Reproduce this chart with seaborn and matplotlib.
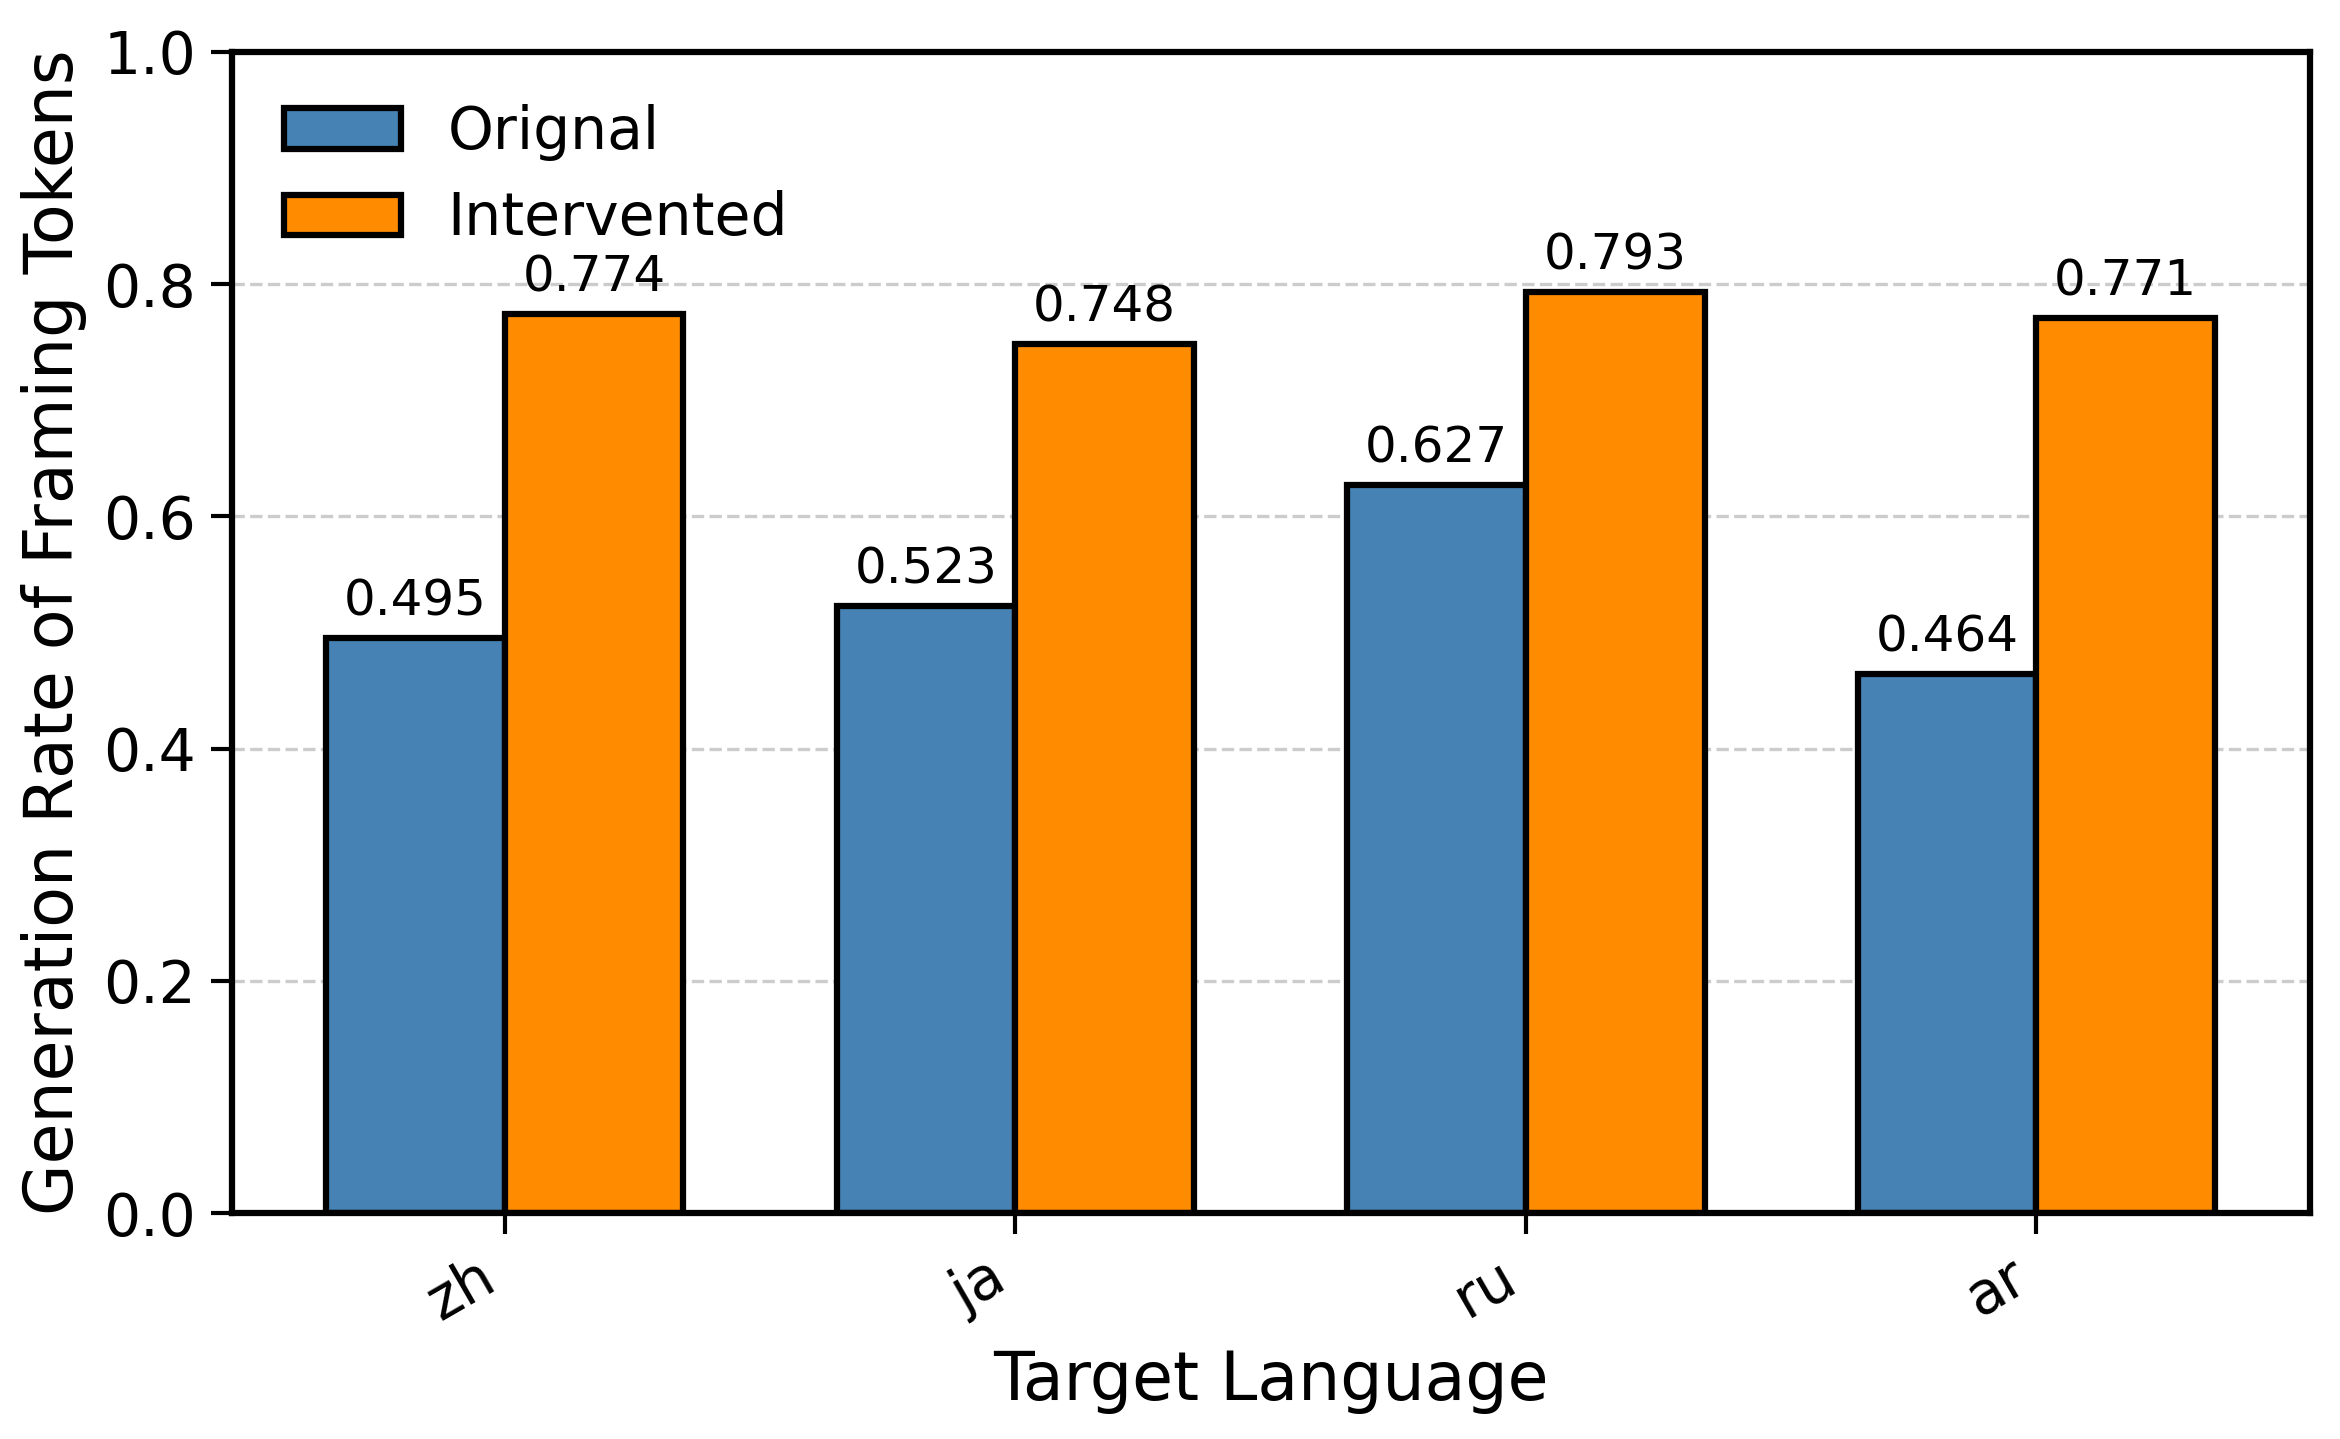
import matplotlib
matplotlib.use("Agg")
import matplotlib.pyplot as plt
import seaborn as sns
import pandas as pd

languages = ["zh", "ja", "ru", "ar"]
original = [0.495, 0.523, 0.627, 0.464]
intervented = [0.774, 0.748, 0.793, 0.771]
series_names = ["Orignal", "Intervented"]
colors = ["#4682B4", "#FF8C00"]

df = pd.DataFrame({
    "lang": languages * 2,
    "value": original + intervented,
    "series": [series_names[0]] * len(languages) + [series_names[1]] * len(languages),
})

sns.set_style("white")
plt.rcParams['font.family'] = ['DejaVu Sans']
plt.rcParams['text.color'] = 'black'
plt.rcParams['axes.labelcolor'] = 'black'
plt.rcParams['xtick.color'] = 'black'
plt.rcParams['ytick.color'] = 'black'

fig, ax = plt.subplots(figsize=(7.8, 4.797), dpi=300)
sns.barplot(data=df, x="lang", y="value", hue="series", palette=colors,
            width=0.7, edgecolor="black", linewidth=1.5, ax=ax, errorbar=None,
            saturation=1)

for cont in ax.containers:
    ax.bar_label(cont, fmt="%.3f", padding=3, fontsize=12, color="black")

ax.set_ylim(0, 1.0)
ax.set_xlim(-0.535, 3.535)
ax.yaxis.grid(True, linestyle="--", color="#cccccc", linewidth=0.8)
ax.set_axisbelow(True)
for s in ax.spines.values():
    s.set_linewidth(1.5)
    s.set_color("black")
ax.tick_params(axis="both", which="major", labelsize=14, length=5, width=1, direction="out",
               bottom=True, left=True, colors="black")
plt.setp(ax.get_xticklabels(), rotation=30, ha="right")
ax.set_xlabel("Target Language", fontsize=16, color="black")
ax.set_ylabel("Generation Rate of Framing Tokens", fontsize=16, color="black")
ax.set_yticks([0.0, 0.2, 0.4, 0.6, 0.8, 1.0])

leg = ax.legend(loc="upper left", fontsize=14, frameon=False, borderaxespad=0.5)
for t in leg.get_texts():
    t.set_color("black")

fig.subplots_adjust(left=0.099, right=0.987, top=0.964, bottom=0.157)
fig.savefig("out.png", dpi=300)
